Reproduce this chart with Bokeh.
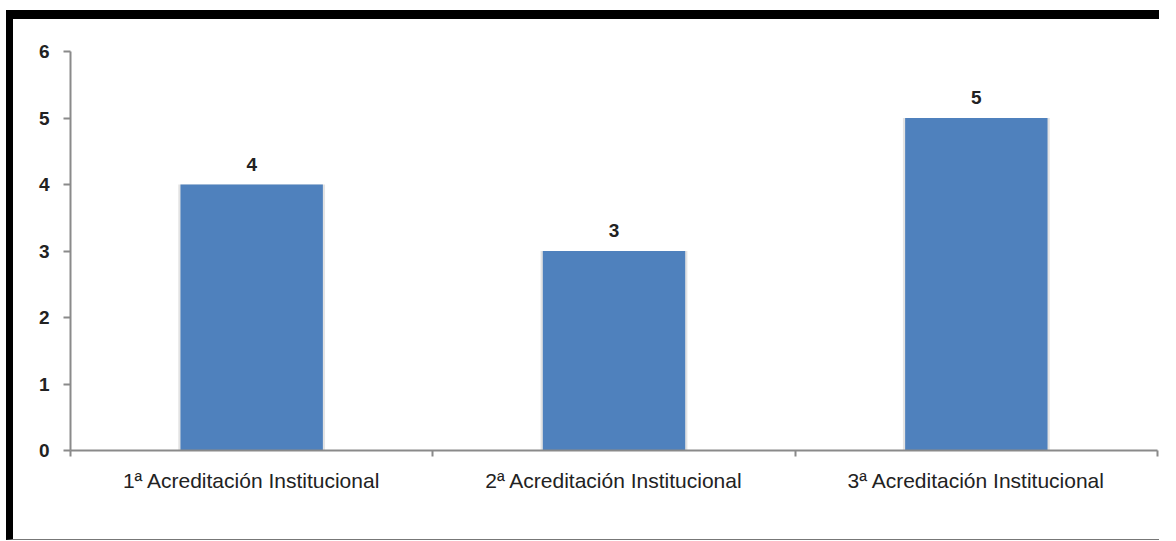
from bokeh.plotting import figure
from bokeh.models import ColumnDataSource, Range1d, FixedTicker, LabelSet
from bokeh.core.properties import value
from bokeh.embed import file_html
from bokeh.resources import INLINE

categories = ["1ª Acreditación Institucional", "2ª Acreditación Institucional", "3ª Acreditación Institucional"]
values = [4, 3, 5]
y_ticks = [0, 1, 2, 3, 4, 5, 6]

xpos = [i + 0.5 for i in range(len(categories))]
src = ColumnDataSource(dict(x=xpos, top=values, label=[str(v) for v in values]))

FONT = "Liberation Sans"

p = figure(width=1153, height=530, output_backend="svg", toolbar_location=None,
           x_range=Range1d(0, len(categories)), y_range=Range1d(0, 6),
           min_border_left=57, min_border_right=9, min_border_top=32, min_border_bottom=99)
p.styles = {"border-top": "9px solid black", "border-left": "7px solid black",
            "border-bottom": "1px solid #777", "margin-left": "6px", "margin-top": "10px"}
p.outline_line_color = None
p.grid.grid_line_color = None
p.background_fill_color = "white"
p.border_fill_color = "white"

# bar shadow
p.vbar(x="x", top="top", width=0.405, bottom=0, source=src, fill_color="#c8c8c8",
       fill_alpha=0.5, line_color=None)
p.vbar(x="x", top="top", width=0.393, bottom=0, source=src, fill_color="#4f81bd",
       line_color=None)

labels = LabelSet(x="x", y="top", text="label", source=src, text_align="center",
                  text_baseline="bottom", y_offset=14, text_font=value(FONT),
                  text_font_size="19px", text_font_style="bold", text_color="#222222")
p.add_layout(labels)

# y axis
p.yaxis.ticker = FixedTicker(ticks=y_ticks)
p.yaxis.axis_line_color = "#8a8a8a"
p.yaxis.axis_line_width = 2
p.yaxis.major_tick_line_color = "#8a8a8a"
p.yaxis.major_tick_line_width = 2
p.yaxis.major_tick_in = 0
p.yaxis.major_tick_out = 7
p.yaxis.minor_tick_line_color = None
p.yaxis.major_label_text_font = FONT
p.yaxis.major_label_text_font_size = "19px"
p.yaxis.major_label_text_font_style = "bold"
p.yaxis.major_label_text_color = "#222222"
p.yaxis.major_label_standoff = 14

# x axis
p.xaxis.ticker = FixedTicker(ticks=xpos, minor_ticks=list(range(len(categories) + 1)))
p.xaxis.major_label_overrides = {x: c for x, c in zip(xpos, categories)}
p.xaxis.axis_line_color = "#8a8a8a"
p.xaxis.axis_line_width = 2
p.xaxis.major_tick_line_color = None
p.xaxis.minor_tick_line_color = "#8a8a8a"
p.xaxis.minor_tick_line_width = 2
p.xaxis.minor_tick_in = 0
p.xaxis.minor_tick_out = 6
p.xaxis.major_label_text_font = FONT
p.xaxis.major_label_text_font_size = "21px"
p.xaxis.major_label_text_color = "#222222"
p.xaxis.major_label_standoff = 12

open("out.html", "w").write(file_html(p, INLINE))
